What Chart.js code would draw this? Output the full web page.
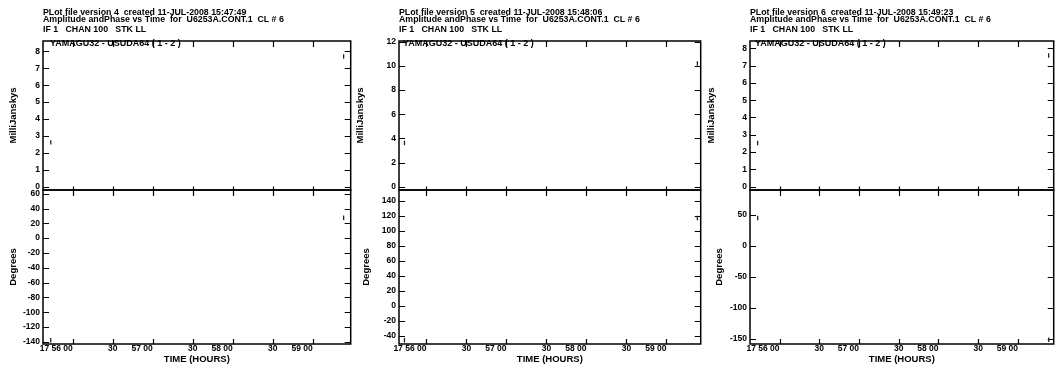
<!DOCTYPE html>
<html><head><meta charset="utf-8">
<script src="https://cdn.jsdelivr.net/npm/chart.js@4.4.1/dist/chart.umd.min.js"></script>
<style>
html,body{margin:0;padding:0;background:#fff;}
body{width:1059px;height:367px;position:relative;overflow:hidden;}
canvas{position:absolute;top:0;}
.bl{position:absolute;font:bold 9px "Liberation Sans",Arial,sans-serif;color:#000;white-space:pre;line-height:9px;}
</style></head><body>
<script>
// ---------------- data ----------------
// time of the two samples, seconds after 17:55:00
const timeSec = [43.5, 263.2];
// amplitude (milliJanskys) and phase (degrees) per plot file version
const ampV4 = [2.62, 7.70];
const phaseV4 = [-138, 27.5];
const ampV5 = [3.62, 10.2];
const phaseV5 = [-45.7, 117.3];
const ampV6 = [2.53, 7.58];
const phaseV6 = [44.5, -151];

// x ticks (seconds after 17:55:00) and their labels
const xTickValues = [60, 90, 120, 150, 180, 210, 240];
const xTickLabels = ['17 56 00', '30', '57 00', '30', '58 00', '30', '59 00'];

// y tick values
const ampTicksV4 = [0, 1, 2, 3, 4, 5, 6, 7, 8];
const phaseTicksV4 = [-140, -120, -100, -80, -60, -40, -20, 0, 20, 40, 60];
const ampTicksV5 = [0, 2, 4, 6, 8, 10, 12];
const phaseTicksV5 = [-40, -20, 0, 20, 40, 60, 80, 100, 120, 140];
const ampTicksV6 = [0, 1, 2, 3, 4, 5, 6, 7, 8];
const phaseTicksV6 = [-150, -100, -50, 0, 50];

// texts
const versions = ['4', '5', '6'];
const createdTimes = ['15:47:49', '15:48:06', '15:49:23'];
const titleLine2 = 'Amplitude andPhase vs Time  for  U6253A.CONT.1  CL # 6';
const titleLine3 = 'IF 1   CHAN 100   STK LL';
const baselineLabel = 'YAMAGU32 - USUDA64 ( 1 - 2 )';
const ampTitle = 'MilliJanskys';
const phaseTitle = 'Degrees';
const xTitle = 'TIME (HOURS)';

// ---------------- layout per panel ----------------
const panels = [
  {cl:0,   w:356, fl:43,  fr:353,  aT:7.6, pT:7.3,  xMin:37.7, xMax:268.5, aMin:-0.2,  aMax:8.62,  pMin:-143,   pMax:65,    amp:ampV4, ph:phaseV4, aTk:ampTicksV4, pTk:phaseTicksV4, lab:50},
  {cl:350, w:356, fl:399, fr:703,  aT:4.3, pT:10.3, xMin:39.4, xMax:265.7, aMin:-0.27, aMax:12.06, pMin:-50.7,  pMax:154.7, amp:ampV5, ph:phaseV5, aTk:ampTicksV5, pTk:phaseTicksV5, lab:403},
  {cl:700, w:359, fl:750, fr:1058, aT:5.3, pT:13.3, xMin:37.7, xMax:267,   aMin:-0.19, aMax:8.42,  pMin:-157.8, pMax:89.4,  amp:ampV6, ph:phaseV6, aTk:ampTicksV6, pTk:phaseTicksV6, lab:755}
];

const FAM = '"Liberation Sans", Arial, Helvetica, sans-serif';
Chart.defaults.color = '#000';
Chart.defaults.font.family = FAM;

const mctx = document.createElement('canvas').getContext('2d');
mctx.font = 'bold 8.5px ' + FAM;
function rightAlignPad(label) {
  const n = Math.round(mctx.measureText(label).width / mctx.measureText(' ').width);
  return label + ' '.repeat(n);
}

const frameTicks = {
  id: 'frameTicks',
  beforeDatasetsDraw(chart) {
    const {ctx, chartArea: ca, scales} = chart;
    const x = scales.x, yA = scales.yA, yP = scales.yP;
    ctx.save();
    ctx.strokeStyle = '#000';
    ctx.lineWidth = 1.5;
    ctx.strokeRect(ca.left, yA.top, ca.right - ca.left, yA.bottom - yA.top);
    ctx.strokeRect(ca.left, yP.top, ca.right - ca.left, yP.bottom - yP.top);
    ctx.lineWidth = 1.2;
    ctx.beginPath();
    x.ticks.forEach(t => {
      const px = Math.round(x.getPixelForValue(t.value)) + 0.5;
      ctx.moveTo(px, yA.top); ctx.lineTo(px, yA.top + 6);
      ctx.moveTo(px, yA.bottom - 3.5); ctx.lineTo(px, yP.top + 6);
      ctx.moveTo(px, yP.bottom); ctx.lineTo(px, yP.bottom - 5);
    });
    [yA, yP].forEach(s => s.ticks.forEach(t => {
      const py = Math.round(s.getPixelForValue(t.value)) + 0.5;
      ctx.moveTo(ca.left, py); ctx.lineTo(ca.left + 6, py);
      ctx.moveTo(ca.right, py); ctx.lineTo(ca.right - 6, py);
    }));
    ctx.stroke();
    ctx.restore();
  }
};

panels.forEach((p, i) => {
  const cv = document.createElement('canvas');
  cv.width = p.w; cv.height = 367;
  cv.style.left = p.cl + 'px';
  cv.style.width = p.w + 'px'; cv.style.height = '367px';
  document.body.appendChild(cv);

  const lab = document.createElement('div');
  lab.className = 'bl';
  lab.textContent = baselineLabel;
  lab.style.left = p.lab + 'px';
  lab.style.top = '39px';
  document.body.appendChild(lab);

  const tickFont = {family: FAM, size: 8.5, weight: 'bold'};
  const titleFont = {family: FAM, size: 8.8, weight: 'bold', lineHeight: 7 / 8.8};
  const axTitleFont = {family: FAM, size: 9.5, weight: 'bold', lineHeight: 1.2};
  const frameW = p.fl - p.cl;

  const yCommon = (ticks, min, max, title, tpad, weight, sw) => ({
    type: 'linear', position: 'left', stack: 'panel', stackWeight: sw, weight: weight,
    min: min, max: max,
    afterBuildTicks: s => { s.ticks = ticks.map(v => ({value: v})); },
    afterFit: s => { s.width = frameW; },
    grid: {display: false, drawTicks: false},
    border: {display: false},
    ticks: {font: tickFont, color: '#000', padding: 3, autoSkip: false, callback: v => String(v)},
    title: {display: true, text: title, font: axTitleFont, color: '#000', padding: {top: tpad, bottom: 0}}
  });

  new Chart(cv, {
    type: 'scatter',
    data: {
      datasets: [
        {label: baselineLabel, xAxisID: 'x', yAxisID: 'yA',
         data: timeSec.map((t, k) => ({x: t, y: p.amp[k]})),
         pointStyle: 'line', rotation: 90, pointRadius: 2.2, pointBorderWidth: 1.3,
         pointBorderColor: '#222', pointBackgroundColor: '#222'},
        {label: 'phase', xAxisID: 'x', yAxisID: 'yP',
         data: timeSec.map((t, k) => ({x: t, y: p.ph[k]})),
         pointStyle: 'line', rotation: 90, pointRadius: 2.2, pointBorderWidth: 1.3,
         pointBorderColor: '#222', pointBackgroundColor: '#222'}
      ]
    },
    options: {
      responsive: false, animation: false, devicePixelRatio: 1,
      layout: {padding: {left: 0, top: 0, bottom: 0, right: p.w - (p.fr - p.cl)}},
      plugins: {
        legend: {display: false},
        tooltip: {enabled: false},
        title: {display: true, align: 'start', fullSize: false, color: '#000', font: titleFont,
                text: ['PLot file version ' + versions[i] + '  created 11-JUL-2008 ' + createdTimes[i], titleLine2],
                padding: {top: 8.7, bottom: 0}},
        subtitle: {display: true, align: 'start', fullSize: false, color: '#000', font: titleFont,
                   text: titleLine3, padding: {top: 3.2, bottom: 8.1}}
      },
      scales: {
        x: {type: 'linear', position: 'bottom', min: p.xMin, max: p.xMax,
            afterBuildTicks: s => { s.ticks = xTickValues.map(v => ({value: v})); },
            afterFit: s => { s.height = 23; },
            grid: {display: false, drawTicks: false},
            border: {display: false},
            ticks: {font: tickFont, color: '#000', padding: 0, autoSkip: false, maxRotation: 0, minRotation: 0,
                    callback: (v, k) => (xTickValues[k] % 60 === 0 ? rightAlignPad(xTickLabels[k]) : xTickLabels[k])},
            title: {display: true, text: xTitle, font: axTitleFont, color: '#000', padding: {top: 0, bottom: 2.2}}},
        yA: yCommon(p.aTk, p.aMin, p.aMax, ampTitle, p.aT, 2, 149),
        yP: yCommon(p.pTk, p.pMin, p.pMax, phaseTitle, p.pT, 1, 154)
      }
    },
    plugins: [frameTicks]
  });
});
</script>
</body></html>
